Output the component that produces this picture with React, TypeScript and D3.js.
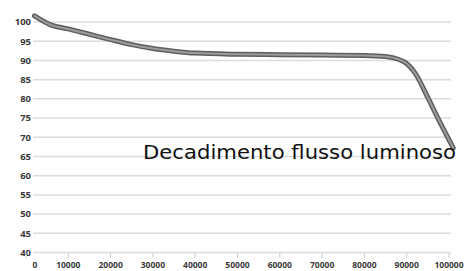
import * as d3 from "d3";

const hours = [2000, 6000, 10000, 15000, 20000, 25000, 30000, 35000, 40000, 50000, 60000, 70000, 80000, 85000, 88000, 90000, 92000, 95000, 98000, 101000];
const lumen = [101.6, 99.2, 98.2, 96.8, 95.4, 94.1, 93.1, 92.4, 91.9, 91.6, 91.5, 91.4, 91.3, 91.0, 90.3, 89.2, 86.7, 80.3, 73.6, 67.2];
const xTicks = [0, 10000, 20000, 30000, 40000, 50000, 60000, 70000, 80000, 90000, 100000];
const yTicks = [40, 45, 50, 55, 60, 65, 70, 75, 80, 85, 90, 95, 100];
const title = "Decadimento flusso luminoso";

const width = 467;
const height = 271;

const App = () => {
  const x = d3.scaleLinear().domain([0, 100000]).range([26, 449]);
  const y = d3.scaleLinear().domain([40, 100]).range([252.5, 22]);

  const points = hours.map((h, i) => [h, lumen[i]] as [number, number]);
  const line = d3.line<[number, number]>()
    .x(d => x(d[0]))
    .y(d => y(d[1]))
    .curve(d3.curveMonotoneX);
  const path = line(points) || "";

  const gridLeft = 33;
  const gridRight = 451;

  return (
    <svg width={width} height={height} style={{ position: "absolute", left: 0, top: 0, background: "#fff" }}>
      <g>
        {yTicks.map(t => (
          <line key={t} x1={gridLeft} x2={gridRight} y1={y(t)} y2={y(t)} stroke="#dcdcdc" strokeWidth={1.5} />
        ))}
      </g>
      <g fontFamily="'Open Sans', 'DejaVu Sans', sans-serif" fontWeight="bold" fill="#3a3a3a">
        {yTicks.map(t => (
          <text key={t} x={31} y={y(t)} dy="0.35em" textAnchor="end" fontSize={9.5}>{t}</text>
        ))}
        {xTicks.map(t => (
          <g key={t}>
            <line x1={x(t)} x2={x(t)} y1={253} y2={258} stroke="#d0d0d0" strokeWidth={1} />
            <text x={t === 0 ? 35 : x(t)} y={268} textAnchor="middle" fontSize={8.5}>{t}</text>
          </g>
        ))}
      </g>
      <path d={path} fill="none" stroke="#5e5e5e" strokeWidth={5} strokeLinecap="round" strokeLinejoin="round" />
      <path d={path} fill="none" stroke="#9c9c9c" strokeWidth={2} strokeLinecap="round" strokeLinejoin="round" />
      <text x={143} y={159} fontFamily="'DejaVu Sans', sans-serif" fontSize={19} fill="#111" textLength={313} lengthAdjust="spacingAndGlyphs">{title}</text>
    </svg>
  );
};

export default App;
